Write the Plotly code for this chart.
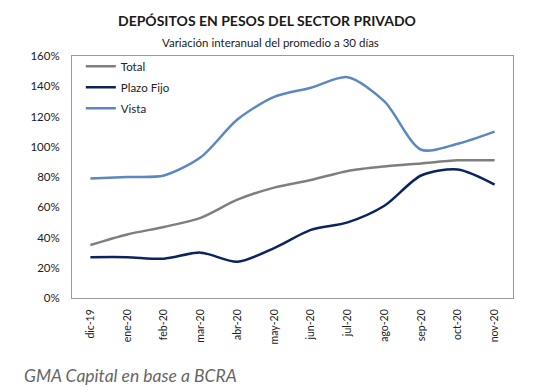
import plotly.graph_objects as go

categories = ["dic-19", "ene-20", "feb-20", "mar-20", "abr-20", "may-20",
              "jun-20", "jul-20", "ago-20", "sep-20", "oct-20", "nov-20"]
total = [35, 42, 47, 53, 65, 73, 78, 84, 87, 89, 91, 91]
plazo_fijo = [27, 27, 26, 30, 24, 33, 45, 50, 61, 81, 85, 75]
vista = [79, 80, 81, 93, 118, 133, 139, 146, 130, 98, 102, 110]
y_ticks = [0, 20, 40, 60, 80, 100, 120, 140, 160]

fig = go.Figure()
series = [("Total", total, "#7f7f7f"),
          ("Plazo Fijo", plazo_fijo, "#0b2461"),
          ("Vista", vista, "#5b87c2")]
for name, vals, col in series:
    fig.add_trace(go.Scatter(x=categories, y=vals, name=name, mode="lines",
                             legendgroup=name,
                             line=dict(color=col, width=2.5, shape="spline", smoothing=0.8)))

fig.update_layout(
    width=537, height=392,
    margin=dict(l=64, r=32, t=48, b=102),
    paper_bgcolor="white", plot_bgcolor="white",
    font=dict(family="Lato, Noto Sans, sans-serif", color="#222222"),
    showlegend=True,
    legend=dict(x=0.02, y=1.018, xanchor="left", yanchor="top",
                bgcolor="rgba(0,0,0,0)", font=dict(size=11.5, color="#222222"),
                itemwidth=30, tracegroupgap=2),
    xaxis=dict(type="category", tickangle=-90, tickfont=dict(size=10.5),
               showline=True, mirror=True, linecolor="#9a9a9a", linewidth=1,
               showgrid=False, ticks="outside", ticklen=6, tickcolor="rgba(0,0,0,0)",
               range=[-0.5, 11.5]),
    yaxis=dict(range=[0, 160], tickvals=y_ticks,
               ticktext=[f"{v}%" for v in y_ticks], tickfont=dict(size=11.5),
               showline=True, mirror=True, linecolor="#9a9a9a", linewidth=1,
               showgrid=False, zeroline=False, ticks="outside", ticklen=9,
               tickcolor="rgba(0,0,0,0)"),
)
fig.add_annotation(text="<b>DEPÓSITOS EN PESOS DEL SECTOR PRIVADO</b>",
                   xref="paper", yref="paper", x=0.442, y=1.0, yshift=25,
                   xanchor="center", yanchor="bottom", showarrow=False,
                   font=dict(size=14, color="#1a1a1a"))
fig.add_annotation(text="Variación interanual del promedio a 30 días",
                   xref="paper", yref="paper", x=0.449, y=1.0, yshift=5,
                   xanchor="center", yanchor="bottom", showarrow=False,
                   font=dict(size=11.5, color="#1a1a1a"))
fig.add_annotation(text="<i>GMA Capital en base a BCRA</i>",
                   xref="paper", yref="paper", x=-0.113, y=0, yshift=-90,
                   xanchor="left", yanchor="bottom", showarrow=False,
                   font=dict(size=17.5, color="#666666"))
fig.write_html("out.html")
